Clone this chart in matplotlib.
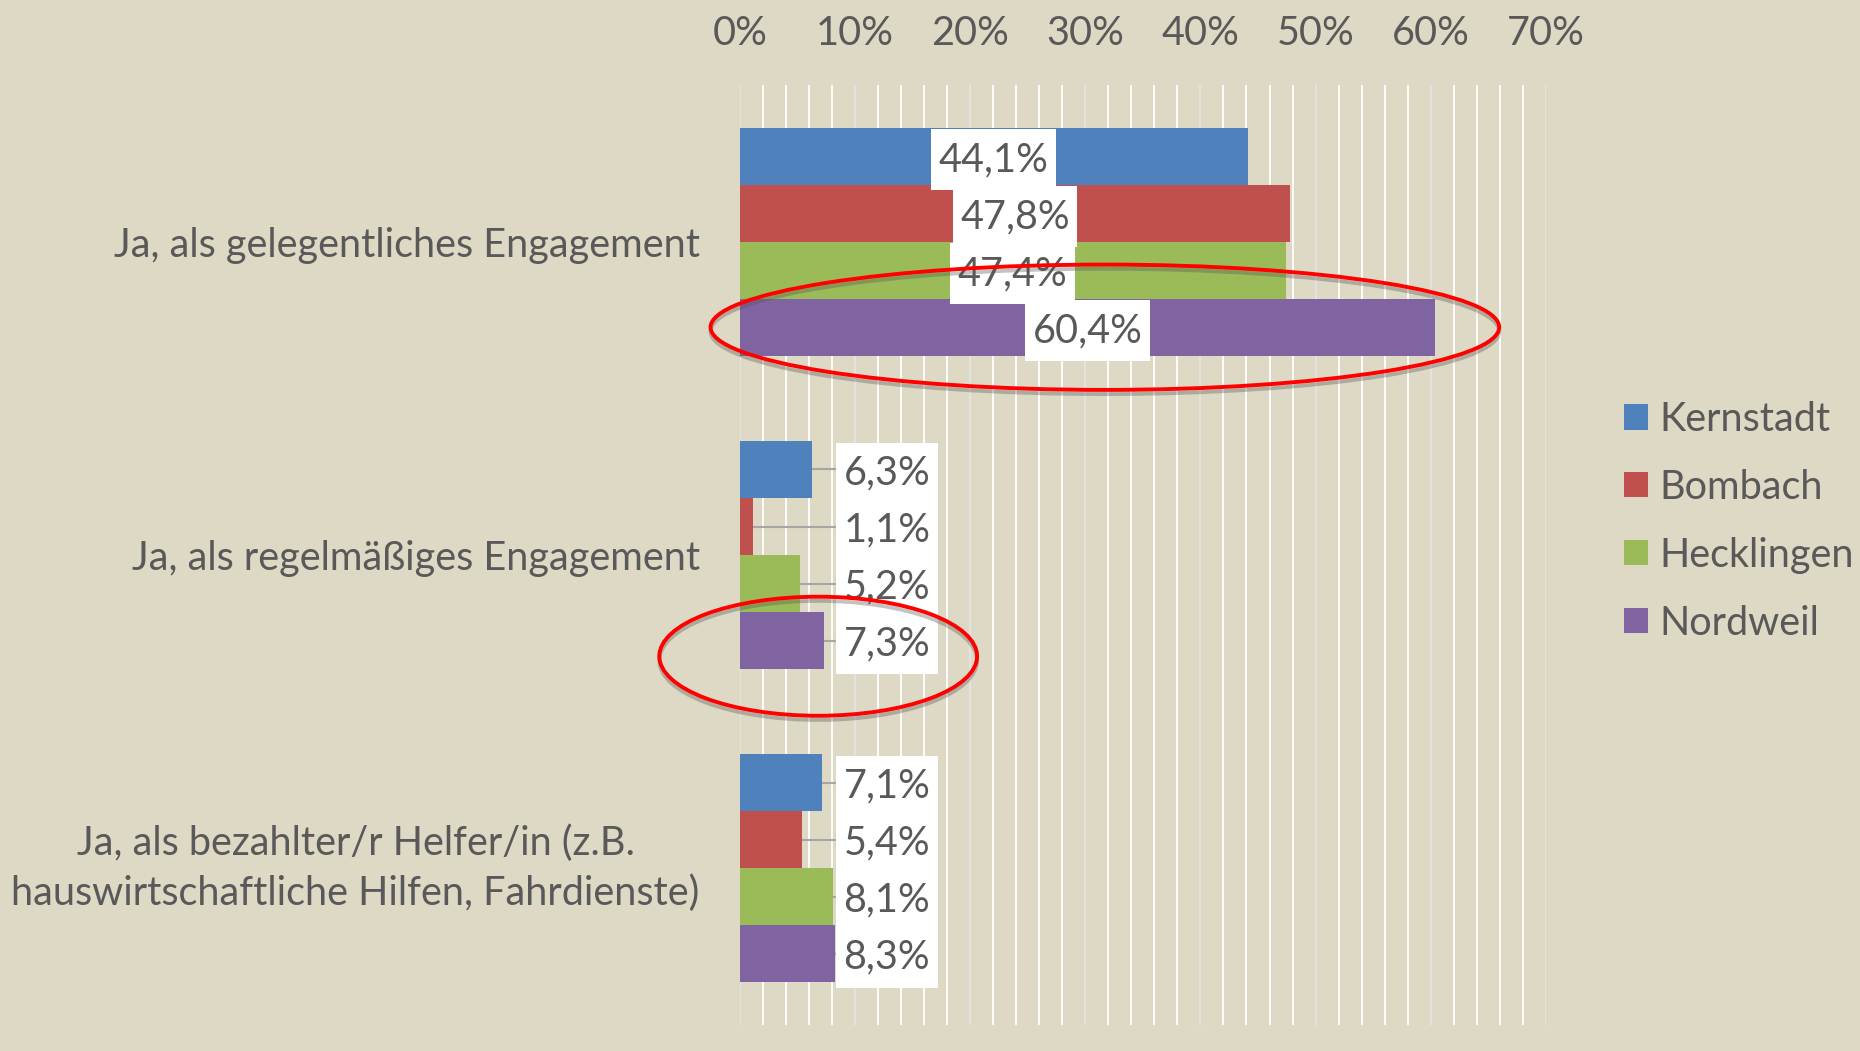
import matplotlib.pyplot as plt
from matplotlib.patches import Ellipse
from matplotlib.path import Path
from matplotlib.ticker import MultipleLocator, FuncFormatter
import matplotlib.patheffects as pe
import numpy as np

plt.rcParams['font.family'] = ['Lato', 'DejaVu Sans']

# Data
categories = [
    "Ja, als gelegentliches Engagement",
    "Ja, als regelmäßiges Engagement",
    "Ja, als bezahlter/r Helfer/in (z.B.\nhauswirtschaftliche Hilfen, Fahrdienste)",
]
series_names = ["Kernstadt", "Bombach", "Hecklingen", "Nordweil"]
kernstadt = [44.1, 6.3, 7.1]
bombach = [47.8, 1.1, 5.4]
hecklingen = [47.4, 5.2, 8.1]
nordweil = [60.4, 7.3, 8.3]
series_values = [kernstadt, bombach, hecklingen, nordweil]
colors = ['#4F81BD', '#C0504D', '#9BBB59', '#8064A2']

BG = '#DDD9C4'
TEXT = '#595959'
FS = 28.5

fig = plt.figure(figsize=(18.6, 10.51), dpi=100, facecolor=BG)
ax = fig.add_axes([0.3978, 0.0247, 0.4333, 0.8944], facecolor=BG)

y = np.arange(len(categories))
h = 0.182
offsets = [-1.5, -0.5, 0.5, 1.5]

bars = []
for name, vals, col, off in zip(series_names, series_values, colors, offsets):
    b = ax.barh(y + off * h, vals, height=h, color=col, label=name, zorder=2)
    bars.append(b)


def fmt(v):
    return f"{v:.1f}%".replace('.', ',')


def label_box(x0, y0, width, height, mutation_size):
    # white label box, wider padding vertically than horizontally
    px = 0.19 * mutation_size
    py = 0.30 * mutation_size
    x0, y0 = x0 - px, y0 - py
    x1, y1 = x0 + width + 2 * px, y0 + height + 2 * py
    return Path([(x0, y0), (x1, y0), (x1, y1), (x0, y1), (x0, y0)],
                closed=True)


box = dict(boxstyle=label_box, facecolor='white', edgecolor='none')

# labels: centered in the large group, outside with leader lines for the small ones
small_max = max(max(vals[1:]) for vals in series_values)
label_x = small_max + 0.7
for vals, off in zip(series_values, offsets):
    for i, v in enumerate(vals):
        yy = i + off * h
        if i == 0:
            ax.text(v / 2, yy, fmt(v), ha='center', va='center_baseline', fontsize=FS,
                    color=TEXT, bbox=box, zorder=4)
        else:
            ax.plot([v, label_x - 0.6], [yy, yy], color='#A6A6A6', lw=1.5, zorder=1.5)
            ax.text(label_x, yy, fmt(v), ha='left', va='center_baseline', fontsize=FS,
                    color=TEXT, bbox=box, zorder=4)

# red highlight rings around Nordweil
shadow = [pe.SimpleLineShadow(offset=(0, -3), shadow_color='#555555', alpha=0.35),
          pe.Normal()]
v0 = nordweil[0]
e1 = Ellipse((v0 / 2 + 1.5, 0 + 1.5 * h), width=v0 + 8.1, height=0.4,
             fill=False, edgecolor='#FF0000', lw=2.8, zorder=5, clip_on=False)
e1.set_path_effects(shadow)
ax.add_patch(e1)
v1 = nordweil[1]
e2 = Ellipse((v1 / 2 + 3.15, 1 + 1.5 * h + 0.05), width=27.6, height=0.38,
             fill=False, edgecolor='#FF0000', lw=2.8, zorder=5, clip_on=False)
e2.set_path_effects(shadow)
ax.add_patch(e2)

ax.set_xlim(0, 70)
ax.set_ylim(2.5, -0.5)
ax.xaxis.tick_top()
ax.xaxis.set_major_locator(MultipleLocator(10))
ax.xaxis.set_minor_locator(MultipleLocator(2))
ax.xaxis.set_major_formatter(FuncFormatter(lambda x, p: f"{x:.0f}%"))
ax.grid(True, which='minor', axis='x', color='white', lw=1.3, zorder=0)
ax.grid(True, which='major', axis='x', color='#E4E4E4', lw=1.3, zorder=0)
ax.set_axisbelow(True)

ax.set_yticks(y)
ax.set_yticklabels(categories)
for lbl in ax.get_yticklabels():
    lbl.set_multialignment('center')
    lbl.set_linespacing(1.4)
    if '\n' in lbl.get_text():
        lbl.set_va('center')

ax.tick_params(axis='x', which='both', length=0, labelsize=FS, labelcolor=TEXT, pad=24)
ax.tick_params(axis='y', length=0, labelsize=FS, labelcolor=TEXT, pad=29)
for s in ax.spines.values():
    s.set_visible(False)

fig.legend(handles=[b for b in bars], labels=series_names, loc='center left',
           bbox_to_anchor=(0.873, 0.504), frameon=False, fontsize=FS,
           labelcolor=TEXT, handlelength=0.6, handleheight=0.6,
           handletextpad=0.3, labelspacing=0.78, borderpad=0, borderaxespad=0)

fig.savefig('out.png', dpi=100, facecolor=BG)
